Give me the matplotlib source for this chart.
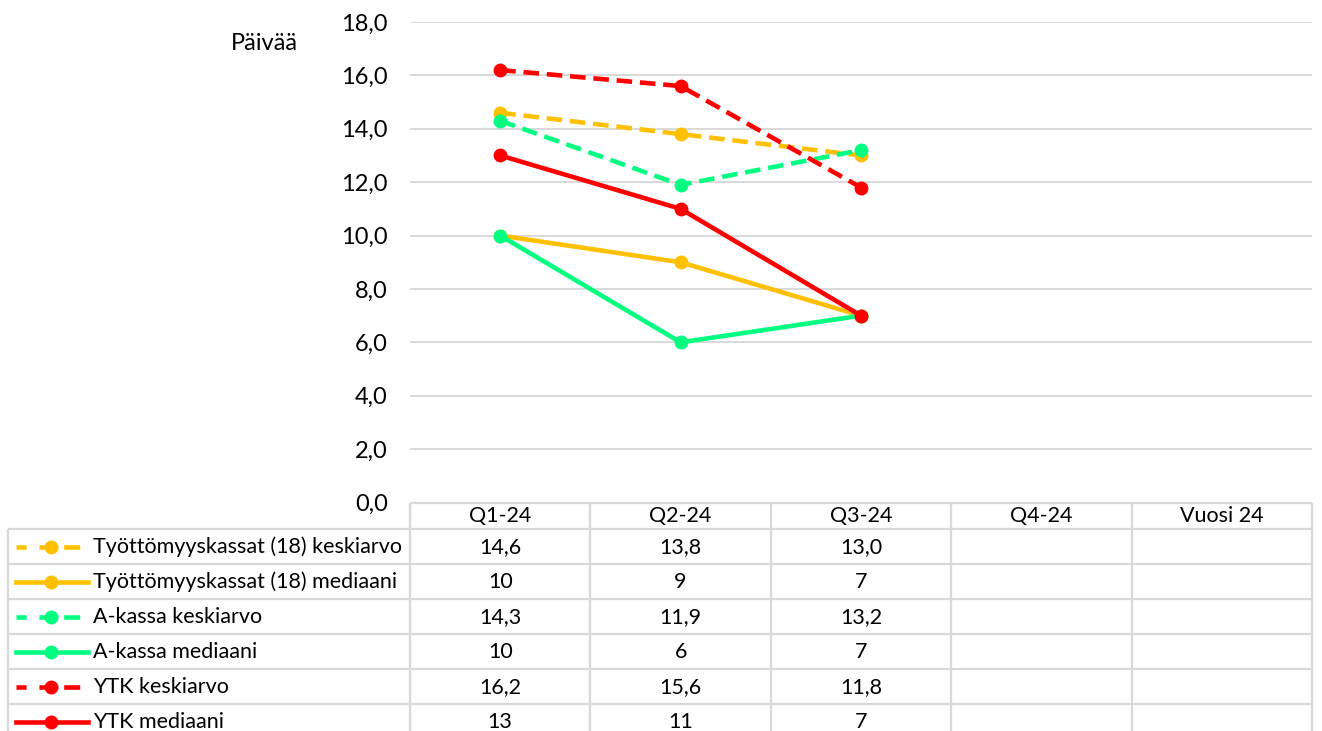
import numpy as np
import matplotlib
matplotlib.use("Agg")
import matplotlib.pyplot as plt
from matplotlib.transforms import blended_transform_factory

plt.rcParams['font.family'] = ['Lato', 'DejaVu Sans']

# data
quarters = ['Q1-24', 'Q2-24', 'Q3-24', 'Q4-24', 'Vuosi 24']
series_names = ['Työttömyyskassat (18) keskiarvo', 'Työttömyyskassat (18) mediaani',
                'A-kassa keskiarvo', 'A-kassa mediaani',
                'YTK keskiarvo', 'YTK mediaani']
tk_ka = [14.6, 13.8, 13.0]
tk_med = [10, 9, 7]
ak_ka = [14.3, 11.9, 13.2]
ak_med = [10, 6, 7]
ytk_ka = [16.2, 15.6, 11.8]
ytk_med = [13, 11, 7]
y_ticks = [0, 2, 4, 6, 8, 10, 12, 14, 16, 18]

series = [tk_ka, tk_med, ak_ka, ak_med, ytk_ka, ytk_med]
is_mean = [True, False, True, False, True, False]
colors = ['#FFC000', '#FFC000', '#00FF80', '#00FF80', '#FF0000', '#FF0000']

W, H = 1322, 731
FS = 15.5
TFS = 17
GRID = '#d9d9d9'
LW = 3.3
MS = 9
DASH = (3.4, 1.7)
# legend key dash pattern (in line widths), like excel's key
KEY_DASH = (2.2, 2.8, 4.1, 1.3, 3.5, 10)

fig = plt.figure(figsize=(W / 100, H / 100), dpi=100)

# main plot area
ax = fig.add_axes([410 / W, 1 - 502.5 / H, (1312 - 410) / W, (502.5 - 22) / H])
ax.set_xlim(0, len(quarters))
ax.set_ylim(0, 18)
ax.set_yticks(y_ticks)
ax.set_yticklabels([f"{v:.1f}".replace('.', ',') for v in y_ticks], fontsize=TFS)
ax.set_xticks([])
ax.tick_params(axis='y', length=0, pad=16)
for s in ax.spines.values():
    s.set_visible(False)
ax.yaxis.grid(True, color=GRID, lw=1.4)
ax.set_axisbelow(True)
ax.patch.set_alpha(0)

x = np.arange(3) + 0.5
for vals, mean, c in zip(series, is_mean, colors):
    if mean:
        ax.plot(x, vals, color=c, lw=LW, dashes=DASH, marker='o', ms=MS, clip_on=False)
    else:
        ax.plot(x, vals, color=c, lw=LW, marker='o', ms=MS, clip_on=False)

fig.text(231 / W, 1 - 43 / H, 'Päivää', fontsize=TFS, va='center', ha='left')

# data table below the plot
tab = fig.add_axes([0, 0, 1, 1], zorder=-1)
tab.set_xlim(0, W)
tab.set_ylim(H, 0)
tab.axis('off')
bt = blended_transform_factory(ax.transData, tab.transData)

top, head_bot, row_h = 502.5, 528.5, 35
n_rows = len(series)
bottom = head_bot + row_h * n_rows

tab.hlines(top, 410, 1312, color=GRID, lw=1.6)
for i in range(n_rows + 1):
    tab.hlines(head_bot + row_h * i, 8, 1312, color=GRID, lw=1.6)
tab.vlines(8, head_bot, bottom, color=GRID, lw=1.6)
tab.vlines(np.arange(len(quarters) + 1), top, bottom, color=GRID, lw=1.6, transform=bt)

for j, q in enumerate(quarters):
    tab.text(j + 0.5, 516, q, transform=bt, ha='center', va='center', fontsize=FS)

for i, (name, vals, mean, c) in enumerate(zip(series_names, series, is_mean, colors)):
    yc = head_bot + row_h * (i + 0.5) + 1
    if mean:
        tab.plot([16, 80], [yc, yc], color=c, lw=LW, dashes=KEY_DASH)
    else:
        tab.plot([16, 88], [yc, yc], color=c, lw=LW)
    tab.plot([51], [yc], color=c, marker='o', ms=MS)
    tab.text(93, yc, name, ha='left', va='center', fontsize=FS)
    for j, v in enumerate(vals):
        txt = f"{v:.1f}".replace('.', ',') if mean else f"{v:d}"
        tab.text(j + 0.5, yc, txt, transform=bt, ha='center', va='center', fontsize=FS)

fig.savefig('out.png', dpi=100)
